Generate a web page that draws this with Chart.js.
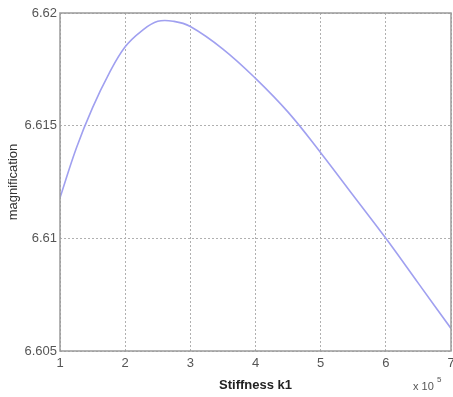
<!DOCTYPE html>
<html>
<head>
<meta charset="utf-8">
<script src="https://cdn.jsdelivr.net/npm/chart.js@4/dist/chart.umd.min.js"></script>
<style>
  body { margin: 0; background: #fff; }
  #wrap { width: 453px; height: 397px; }
</style>
</head>
<body>
<div id="wrap"><canvas id="magChart" width="453" height="397"></canvas></div>
<script>
// stiffness k1 (x 10^5) and the magnification
const stiffness = [1, 1.25, 1.5, 1.75, 2, 2.25, 2.5, 2.75, 3, 3.5, 4, 4.5, 5, 5.5, 6, 6.5, 7];
const magnification = [6.6118, 6.6140, 6.6158, 6.6173, 6.6185, 6.6192, 6.61963, 6.61963, 6.6194,
                       6.6184, 6.6171, 6.6156, 6.6138, 6.6119, 6.6100, 6.6080, 6.6060];

const xTicks = [1, 2, 3, 4, 5, 6, 7];
const yTicks = [6.605, 6.61, 6.615, 6.62];

const points = stiffness.map((k, i) => ({ x: k, y: magnification[i] }));

// frame round the plot + the "x 10^5" exponent label
const framePlugin = {
    id: "frame",
    afterDraw(chart) {
        const { ctx, chartArea } = chart;
        ctx.save();
        ctx.strokeStyle = "#9a9a9a";
        ctx.lineWidth = 1.5;
        ctx.setLineDash([]);
        ctx.strokeRect(chartArea.left, chartArea.top, chartArea.right - chartArea.left, chartArea.bottom - chartArea.top);

        ctx.fillStyle = "#555";
        ctx.textBaseline = "alphabetic";
        ctx.font = "11px Arial, 'Liberation Sans', sans-serif";
        ctx.fillText("x 10", 413, 390);
        ctx.font = "8px Arial, 'Liberation Sans', sans-serif";
        ctx.fillText("5", 437, 382);
        ctx.restore();
    }
};

const ctx = document.getElementById("magChart").getContext("2d");
const magChart = new Chart(ctx, {
    type: "line",
    data: {
        datasets: [{
            data: points,
            borderColor: "#a0a0f0",
            borderWidth: 1.6,
            pointRadius: 0,
            fill: false,
            tension: 0.4
        }]
    },
    options: {
        responsive: false,
        animation: false,
        layout: { padding: { top: 13, right: 2, left: 0, bottom: 0 } },
        plugins: { legend: { display: false }, tooltip: { enabled: false } },
        scales: {
            x: {
                type: "linear",
                min: 1,
                max: 7,
                afterBuildTicks: s => { s.ticks = xTicks.map(v => ({ value: v })); },
                afterFit: s => { s.height = 46; s.paddingRight = 0; s.paddingLeft = 0; },
                ticks: {
                    color: "#555",
                    font: { family: "Arial, 'Liberation Sans', sans-serif", size: 13 },
                    padding: 5,
                    maxRotation: 0
                },
                grid: { color: "#b0b0b0", borderDash: [2, 2], drawTicks: false },
                border: { display: false, dash: [2, 2] },
                title: {
                    display: true,
                    text: "Stiffness k1",
                    color: "#222",
                    font: { family: "Arial, 'Liberation Sans', sans-serif", size: 13, weight: "bold" },
                    padding: { top: 0, bottom: 4 }
                }
            },
            y: {
                min: 6.605,
                max: 6.62,
                afterBuildTicks: s => { s.ticks = yTicks.map(v => ({ value: v })); },
                afterFit: s => { s.width = 60; },
                ticks: {
                    color: "#555",
                    font: { family: "Arial, 'Liberation Sans', sans-serif", size: 13 },
                    padding: 3,
                    callback: v => String(Number(v.toFixed(3)))
                },
                grid: { color: "#b0b0b0", drawTicks: false },
                border: { display: false, dash: [2, 2] },
                title: {
                    display: true,
                    text: "magnification",
                    color: "#333",
                    font: { family: "Arial, 'Liberation Sans', sans-serif", size: 13 },
                    padding: { top: 6, bottom: 2 }
                }
            }
        }
    },
    plugins: [framePlugin]
});
</script>
</body>
</html>
